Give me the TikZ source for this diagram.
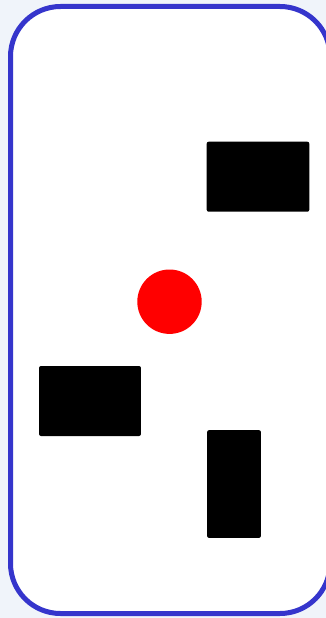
\documentclass[tikz,border=0pt]{standalone}
\usepackage{tikz}
\usetikzlibrary{shapes,positioning,calc}
\usepackage{xcolor}
\definecolor{framblue}{RGB}{53,53,204}
\definecolor{paleblue}{RGB}{240,244,250}

\begin{document}
\begin{tikzpicture}[x=0.05cm, y=-0.05cm]
    \tikzstyle{block} = [rectangle, fill=black, draw=none, rounded corners=0.1cm, inner sep=0pt]
    \tikzstyle{ball} = [circle, fill=red, draw=none, inner sep=0pt, minimum size=3.22cm]
    \tikzstyle{border} = [draw=framblue, line width=0.25cm, fill=white, rounded corners=2.5cm]

    % canvas
    \fill[paleblue] (0,0) rectangle (326,618);
    \useasboundingbox (0,0) rectangle (326,618);
    \clip (0,0) rectangle (326,618);

    % outer frame
    \draw[border] (10.5,6.5) rectangle (330,613.5);

    % obstacles
    \node[block, minimum width=5.13cm, minimum height=3.5cm] (blockA) at (258,176.7) {};
    \node[block, minimum width=5.1cm, minimum height=3.5cm] (blockB) at (90,401) {};
    \node[block, minimum width=2.69cm, minimum height=5.39cm] (blockC) at (234,484) {};

    % ball
    \node[ball] (ball) at (169.5,301.7) {};
\end{tikzpicture}
\end{document}
